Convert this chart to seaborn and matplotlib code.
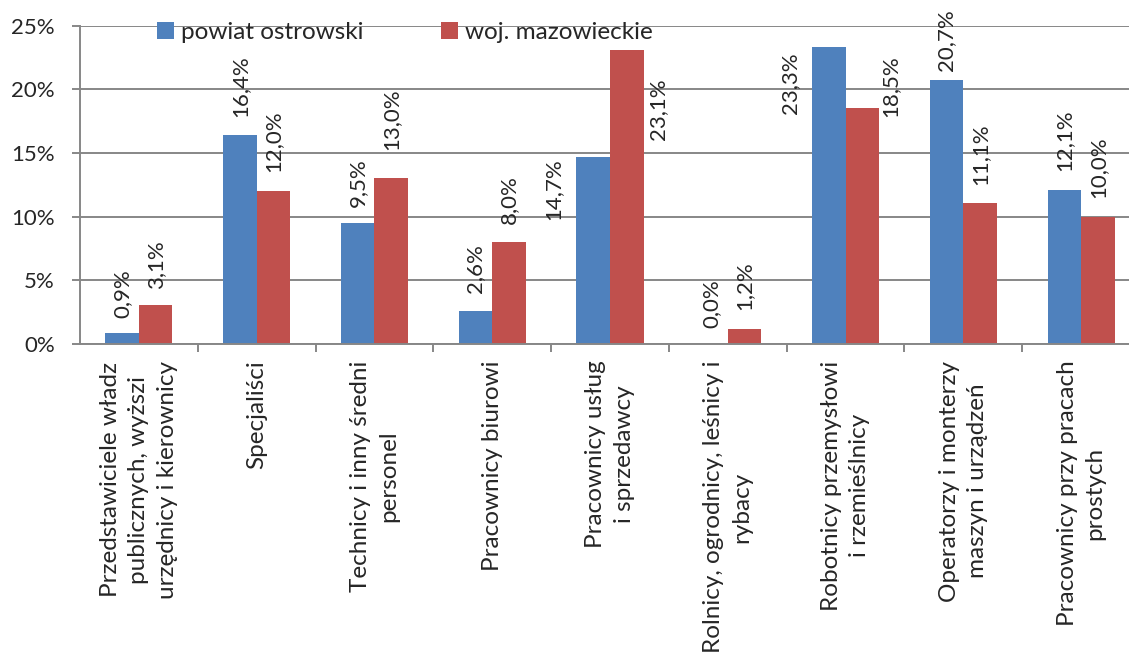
import matplotlib
matplotlib.use('Agg')
import matplotlib.pyplot as plt
from matplotlib.patches import Patch
import seaborn as sns
import pandas as pd

kategorie = [
    'Przedstawiciele władz\npublicznych, wyższi\nurzędnicy i kierownicy',
    'Specjaliści',
    'Technicy i inny średni\npersonel',
    'Pracownicy biurowi',
    'Pracownicy usług\ni sprzedawcy',
    'Rolnicy, ogrodnicy, leśnicy i\nrybacy',
    'Robotnicy przemysłowi\ni rzemieślnicy',
    'Operatorzy i monterzy\nmaszyn i urządzeń',
    'Pracownicy przy pracach\nprostych',
]
serie = ['powiat ostrowski', 'woj. mazowieckie']
powiat = [0.9, 16.4, 9.5, 2.6, 14.7, 0.0, 23.3, 20.7, 12.1]
mazowieckie = [3.1, 12.0, 13.0, 8.0, 23.1, 1.2, 18.5, 11.1, 10.0]
y_ticks = [0, 5, 10, 15, 20, 25]

kolory = ['#4F81BD', '#C0504D']

# label offsets from bar top in pixels (dx, dy), per series
offsets = [
    [(0, 15), (0, 18), (0, 16), (0, 18), (-40, -63), (0, 16), (-39, -67), (0, 9), (0, 19)],
    [(0, 16), (0, 19), (0, 28), (0, 18), (31, -90), (0, 19), (28, -9), (0, 18), (0, 19)],
]

sns.set_theme(style='white')
plt.rcParams['font.family'] = ['Lato', 'DejaVu Sans']
plt.rcParams['font.size'] = 16

df = pd.DataFrame({
    'kategoria': kategorie * 2,
    'seria': [serie[0]] * len(kategorie) + [serie[1]] * len(kategorie),
    'wartosc': powiat + mazowieckie,
})

fig = plt.figure(figsize=(11.29, 6.57), dpi=100)
ax = fig.add_axes([80 / 1129, 1 - 344 / 657, 1060 / 1129, (344 - 25.5) / 657])

sns.barplot(data=df, x='kategoria', y='wartosc', hue='seria', palette=kolory,
            width=0.57, ax=ax, legend=False, saturation=1, edgecolor='none')

ax.set_ylim(0, 25)
ax.set_xlim(-0.5, len(kategorie) - 0.5)
ax.set_yticks(y_ticks)
ax.set_yticklabels([f'{t}%' for t in y_ticks], fontsize=16)
ax.yaxis.grid(True, color='#878787', linewidth=1.4)
ax.set_axisbelow(True)
ax.set_xlabel('')
ax.set_ylabel('')

for s in ['top', 'right']:
    ax.spines[s].set_visible(False)
for s in ['left', 'bottom']:
    ax.spines[s].set_color('#878787')
    ax.spines[s].set_linewidth(1.4)

ax.tick_params(axis='y', which='major', left=True, length=6, width=1.4,
               color='#878787', pad=12, labelsize=16)
ax.tick_params(axis='x', which='major', bottom=False, length=0, pad=12)
ax.set_xticks([i + 0.5 for i in range(len(kategorie))], minor=True)
ax.tick_params(axis='x', which='minor', bottom=True, length=6, width=1.4,
               color='#878787', direction='out')
for lab in ax.get_xticklabels():
    lab.set_rotation(90)
    lab.set_ha('center')
    lab.set_va('top')
    lab.set_multialignment('center')
    lab.set_fontsize(17.5)
    lab.set_linespacing(1.42)

for si, cont in enumerate(ax.containers):
    for bi, bar in enumerate(cont):
        val = bar.get_height()
        dx, dy = offsets[si][bi]
        ax.annotate(f'{val:.1f}%'.replace('.', ','),
                    xy=(bar.get_x() + bar.get_width() / 2, val),
                    xytext=(dx, dy), textcoords='offset pixels',
                    rotation=90, ha='center', va='bottom', fontsize=16,
                    annotation_clip=False)

handles = [Patch(facecolor=c, edgecolor='none') for c in kolory]
fig.legend(handles, serie, loc='upper left', bbox_to_anchor=(157 / 1129, 1 - 22 / 657),
           ncol=2, frameon=False, fontsize=17.5, borderpad=0, handlelength=0.68,
           handleheight=0.68, handletextpad=0.3, columnspacing=3.2, borderaxespad=0)

fig.savefig('out.png', dpi=100)
